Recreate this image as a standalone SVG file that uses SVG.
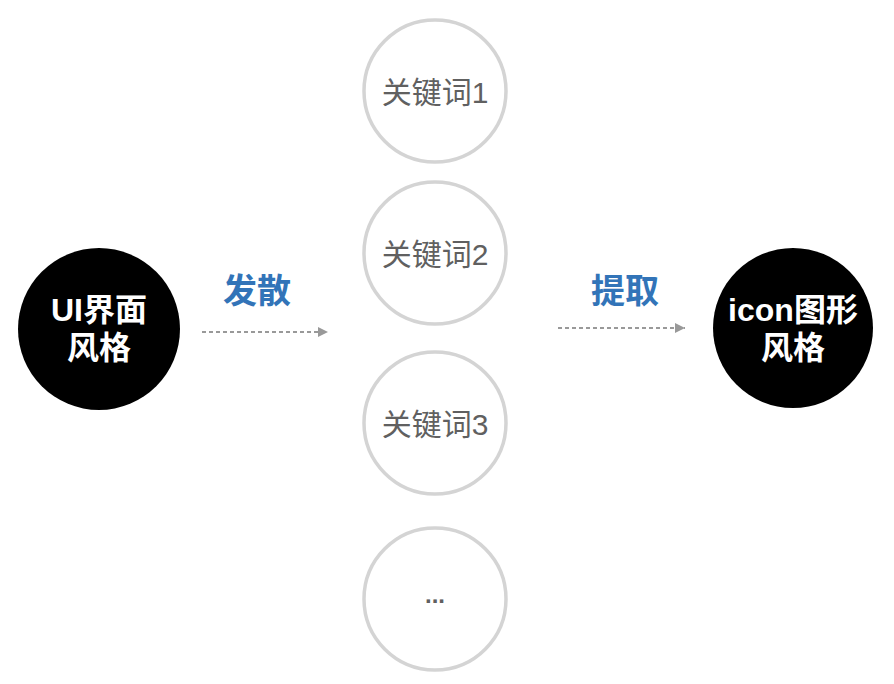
<svg xmlns="http://www.w3.org/2000/svg" width="894" height="684" viewBox="0 0 894 684">
<style>
.kw{fill:#fff;stroke:#d4d4d4;stroke-width:3.5}
.kt{font-family:"Liberation Sans","Noto Sans CJK SC",sans-serif;font-size:30px;fill:#606060;text-anchor:middle}
.bk{fill:#000}
.bt{font-family:"Liberation Sans","Noto Sans CJK SC",sans-serif;font-size:32px;font-weight:bold;fill:#fff;text-anchor:middle}
.lb{font-family:"Noto Sans CJK SC",sans-serif;font-size:34px;font-weight:bold;fill:#3274b8;text-anchor:middle}
.ar{stroke:#999;stroke-width:2;stroke-dasharray:4 3;fill:none}
</style>
<defs>
<marker id="ah" viewBox="0 0 10 10" refX="10" refY="5" markerWidth="10" markerHeight="10" markerUnits="userSpaceOnUse" orient="auto">
<path d="M0,0 L10,5 L0,10 z" fill="#999"/>
</marker>
</defs>
<g id="src"><circle class="bk" cx="99" cy="329" r="81"/><text class="bt" x="99" y="321">UI界面</text><text class="bt" x="99" y="359">风格</text></g>
<g id="dst"><circle class="bk" cx="793" cy="328" r="80"/><text class="bt" x="793" y="321">icon图形</text><text class="bt" x="793" y="359">风格</text></g>
<g id="k1"><circle class="kw" cx="435" cy="91" r="71"/><text class="kt" x="435" y="103">关键词1</text></g>
<g id="k2"><circle class="kw" cx="435" cy="253" r="71"/><text class="kt" x="435" y="265">关键词2</text></g>
<g id="k3"><circle class="kw" cx="435" cy="423" r="71"/><text class="kt" x="435" y="435">关键词3</text></g>
<g id="k4"><circle class="kw" cx="435" cy="599" r="71"/><text class="kt" x="435" y="603" style="font-weight:bold;font-size:24px">...</text></g>
<g id="labels"><text class="lb" x="257" y="303">发散</text><text class="lb" x="625" y="303">提取</text></g>
<g id="connectors">
<line class="ar" x1="202" y1="332" x2="328" y2="332" marker-end="url(#ah)"/>
<line class="ar" x1="558" y1="328" x2="685" y2="328" marker-end="url(#ah)"/>
</g>
</svg>
